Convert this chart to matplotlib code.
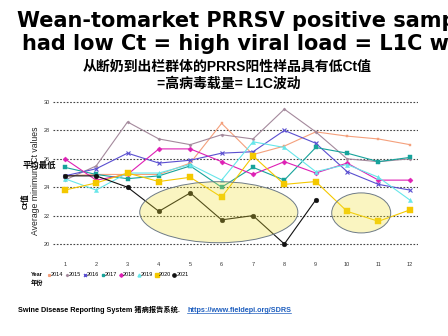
import matplotlib
matplotlib.use('Agg')
import matplotlib.pyplot as plt
from matplotlib.patches import Ellipse
from matplotlib.lines import Line2D

plt.rcParams['font.family'] = ['Liberation Sans', 'Noto Sans CJK SC', 'DejaVu Sans']

# Données
months = [1, 2, 3, 4, 5, 6, 7, 8, 9, 10, 11, 12]
y2014 = [24.8, 24.9, 24.9, 24.9, 25.7, 28.5, 26.3, 26.9, 27.9, 27.6, 27.4, 27.0]
y2015 = [24.5, 25.5, 28.6, 27.4, 27.0, 27.7, 27.4, 29.5, 27.9, 26.0, 25.8, 26.0]
y2016 = [24.8, 25.3, 26.4, 25.7, 25.9, 26.4, 26.5, 28.0, 27.1, 25.1, 24.2, 23.8]
y2017 = [25.4, 24.9, 24.6, 24.8, 25.5, 24.0, 25.4, 24.5, 26.8, 26.4, 25.8, 26.1]
y2018 = [26.0, 24.5, 24.9, 26.7, 26.7, 25.8, 24.9, 25.8, 25.0, 25.7, 24.5, 24.5]
y2019 = [24.6, 23.8, 25.0, 25.0, 25.6, 24.5, 27.2, 26.8, 25.1, 25.6, 24.7, 23.1]
y2020 = [23.8, 24.3, 25.0, 24.4, 24.7, 23.3, 26.2, 24.2, 24.4, 22.3, 21.6, 22.4]
y2021 = [24.8, 24.8, 24.0, 22.3, 23.6, 21.7, 22.0, 20.0, 23.1]

years = ['2014', '2015', '2016', '2017', '2018', '2019', '2020', '2021']
series = [y2014, y2015, y2016, y2017, y2018, y2019, y2020, y2021]
colors = ['#f4a07c', '#a4899c', '#5a4fd0', '#17a39b', '#de1fb4', '#66e6ea', '#f4c800', '#111111']
markers = ['s', 'D', 'x', 's', 'D', '^', 's', 'o']
msizes = [1.8, 1.6, 3.0, 3.0, 2.6, 3.0, 4.3, 3.4]

fig = plt.figure(figsize=(4.48, 3.36), dpi=100)
ax = fig.add_axes([0.118, 0.2527, 0.815, 0.452])

for vals, c, m, ms in zip(series, colors, markers, msizes):
    ax.plot(months[:len(vals)], vals, color=c, marker=m, markersize=ms, lw=0.8,
            markeredgewidth=0.8 if m == 'x' else 0.3, zorder=3, clip_on=False)

# ellipses de mise en évidence (semi-transparentes, par-dessus les courbes)
ax.add_patch(Ellipse((5.91, 22.24), 5.04, 4.3, facecolor=(0.94, 0.88, 0.2, 0.3),
                     edgecolor='#6d7a86', lw=0.7, zorder=4))
ax.add_patch(Ellipse((10.45, 22.19), 1.88, 2.82, facecolor=(0.94, 0.88, 0.2, 0.3),
                     edgecolor='#6d7a86', lw=0.7, zorder=4))

ax.set_xlim(0.62, 12.26)
ax.set_ylim(19.5, 30.2)
ax.set_yticks([20, 22, 24, 26, 28, 30])
ax.set_xticks(months)
ax.yaxis.grid(True, linestyle=(0, (1.5, 1.5)), color='#444444', lw=0.8)
ax.set_axisbelow(True)
for s in ax.spines.values():
    s.set_visible(False)
ax.tick_params(axis='both', length=0, labelsize=4, colors='#333333')
ax.tick_params(axis='x', pad=8)
ax.tick_params(axis='y', pad=2)

fig.text(35/448, 1-181/336, 'Average minimum Ct values', rotation=90, fontsize=6.2,
         ha='center', va='center', color='#222222')
fig.text(39/448, 1-166/336, '平均最低', fontsize=6, fontweight='bold', ha='center', va='center')
fig.text(26/448, 1-201/336, 'Ct值', fontsize=5.5, fontweight='bold', rotation=90,
         ha='center', va='center')

# légende
handles = [Line2D([], [], color=c, marker=m, markersize=ms * 0.7, linestyle='none')
           for c, m, ms in zip(colors, markers, msizes)]
fig.text(31/448, 1-275/336, 'Year', fontsize=4, fontweight='bold', va='center')
fig.legend(handles, years, ncol=8, fontsize=4, frameon=False, handlelength=0.5,
           handletextpad=0.1, columnspacing=0.4, borderpad=0, loc='center left',
           bbox_to_anchor=(45/448, 1-275/336))
fig.text(31/448, 1-283/336, '年份', fontsize=4.5, fontweight='bold', va='center')

# titres
fig.text(17/448, 1-21/336, 'Wean-tomarket PRRSV positive samp', fontsize=15,
         family='DejaVu Sans', fontweight='bold', va='center', ha='left')
fig.text(22/448, 1-44/336, 'had low Ct = high viral load = L1C wa', fontsize=15,
         family='DejaVu Sans', fontweight='bold', va='center', ha='left')
fig.text(227/448, 1-67/336, '从断奶到出栏群体的PRRS阳性样品具有低Ct值', fontsize=10,
         fontweight='bold', va='center', ha='center')
fig.text(229/448, 1-84/336, '=高病毒载量= L1C波动', fontsize=10,
         fontweight='bold', va='center', ha='center')

# source
fig.text(18/448, 1-310/336, 'Swine Disease Reporting System 猪病报告系统. ', fontsize=5.2,
         fontweight='bold', va='center', ha='left')
link = fig.text(187/448, 1-310/336, 'https://www.fieldepi.org/SDRS', fontsize=5.2,
                fontweight='bold', va='center', ha='left', color='#1f5fbf')
fig.canvas.draw()
bb = link.get_window_extent().transformed(fig.transFigure.inverted())
fig.add_artist(Line2D([bb.x0, bb.x1], [bb.y0 + 0.002, bb.y0 + 0.002], color='#1f5fbf',
                      lw=0.5, transform=fig.transFigure))

fig.savefig('out.png', dpi=100)
